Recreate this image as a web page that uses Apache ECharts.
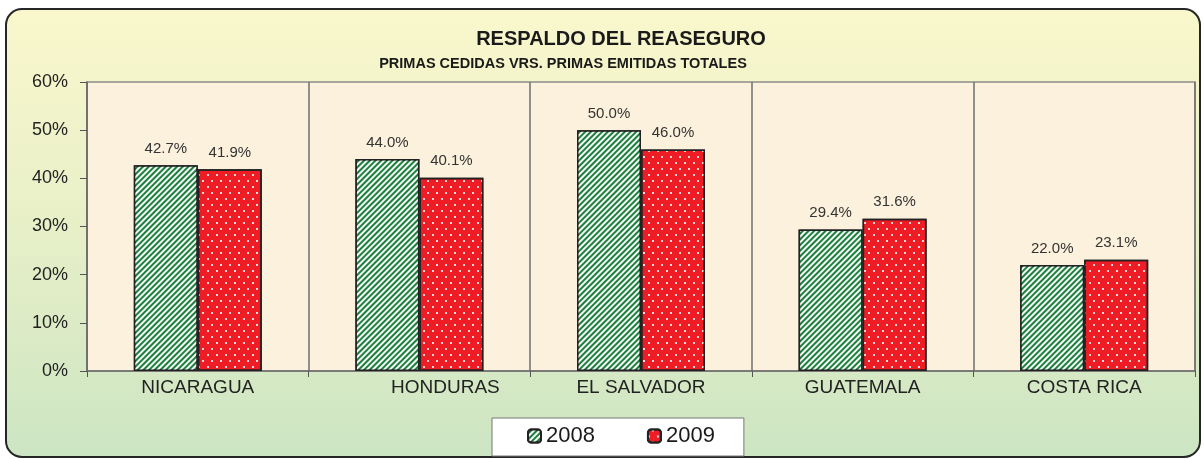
<!DOCTYPE html>
<html>
<head>
<meta charset="utf-8">
<script src="https://cdn.jsdelivr.net/npm/echarts@6/dist/echarts.min.js"></script>
<style>
html, body { margin: 0; padding: 0; background: #ffffff; }
#main { width: 1204px; height: 459px; }
</style>
</head>
<body>
<div id="main"></div>
<script>
const paises = ['NICARAGUA', 'HONDURAS', 'EL SALVADOR', 'GUATEMALA', 'COSTA RICA'];
const datos2008 = [42.7, 44.0, 50.0, 29.4, 22.0];
const datos2009 = [41.9, 40.1, 46.0, 31.6, 23.1];
const ticksY = [0, 10, 20, 30, 40, 50, 60];

const myChart = echarts.init(document.getElementById('main'));

// rayas diagonales para 2008, puntos blancos para 2009
const rayas = {
    symbol: 'rect',
    symbolSize: 1,
    color: 'rgba(255,255,255,0.95)',
    dashArrayX: [1, 0],
    dashArrayY: [1.5, 1.5],
    rotation: -Math.PI / 4
};
const puntos = {
    symbol: 'rect',
    symbolSize: 1,
    color: 'rgba(255,235,235,0.9)',
    dashArrayX: [[1.5, 6.5], [0, 4, 1.5, 2.5]],
    dashArrayY: [1.5, 4]
};

option = {
    aria: { enabled: true, decal: { show: true } },
    textStyle: { fontFamily: 'Liberation Sans, Arial, sans-serif' },
    graphic: [{
        type: 'rect',
        z: -10,
        shape: { x: 6, y: 9, width: 1194, height: 448, r: 16 },
        style: {
            fill: new echarts.graphic.LinearGradient(0, 0, 0, 1, [
                { offset: 0, color: '#faf7cc' },
                { offset: 0.45, color: '#e9f0c8' },
                { offset: 1, color: '#cce5c3' }
            ]),
            stroke: '#262626',
            lineWidth: 2
        }
    }],
    title: [{
        text: 'RESPALDO DEL REASEGURO',
        left: 616, top: 24, textAlign: 'center',
        textStyle: { fontSize: 20, fontWeight: 'bold', color: '#1a1a1a' }
    }, {
        text: 'PRIMAS CEDIDAS VRS. PRIMAS EMITIDAS TOTALES',
        left: 558, top: 51, textAlign: 'center',
        textStyle: { fontSize: 14.5, fontWeight: 'bold', color: '#1a1a1a' }
    }],
    legend: {
        data: ['2008', '2009'],
        left: 492, top: 418,
        padding: [7, 29, 9, 35],
        itemWidth: 13, itemHeight: 13, itemGap: 52,
        backgroundColor: '#ffffff',
        borderColor: '#777777', borderWidth: 1,
        textStyle: { fontSize: 22, color: '#1a1a1a' }
    },
    grid: {
        left: 87, right: 9, top: 82, bottom: 88,
        show: true,
        backgroundColor: '#fcf1dc',
        borderColor: '#8c8c8c', borderWidth: 1.5
    },
    xAxis: {
        type: 'category',
        data: paises,
        axisLine: { lineStyle: { color: '#6e6e6e', width: 1.5 } },
        axisTick: { show: true, length: 6, lineStyle: { color: '#555' } },
        splitLine: { show: true, lineStyle: { color: '#6e6e6e', width: 1.5 } },
        axisLabel: {
            fontSize: 19, color: '#222', margin: 7,
            formatter: v => v === 'HONDURAS' ? '{h|' + v + '}' : v,
            rich: { h: { fontSize: 19, color: '#222', padding: [0, 0, 0, 52] } }
        }
    },
    yAxis: {
        type: 'value',
        min: ticksY[0], max: ticksY[ticksY.length - 1], interval: 10,
        axisLine: { show: true, lineStyle: { color: '#6e6e6e', width: 1.5 } },
        axisTick: { show: true, length: 7, lineStyle: { color: '#555' } },
        splitLine: { show: false },
        axisLabel: { fontSize: 18, color: '#222', margin: 19, formatter: '{value}%' }
    },
    series: [
        {
            name: '2008',
            type: 'bar',
            data: datos2008,
            barWidth: 64,
            barGap: '0%',
            itemStyle: { color: '#1d7f3e', borderColor: '#222', borderWidth: 1.5, decal: rayas },
            label: { show: true, position: 'top', distance: 9, fontSize: 15, color: '#333', formatter: p => p.value.toFixed(1) + '%' }
        }, {
            name: '2009',
            type: 'bar',
            data: datos2009,
            barWidth: 64,
            itemStyle: { color: '#ee1c25', borderColor: '#222', borderWidth: 1.5, decal: puntos },
            label: { show: true, position: 'top', distance: 9, fontSize: 15, color: '#333', formatter: p => p.value.toFixed(1) + '%' }
        }
    ]
};

myChart.setOption(option);
</script>
</body>
</html>
